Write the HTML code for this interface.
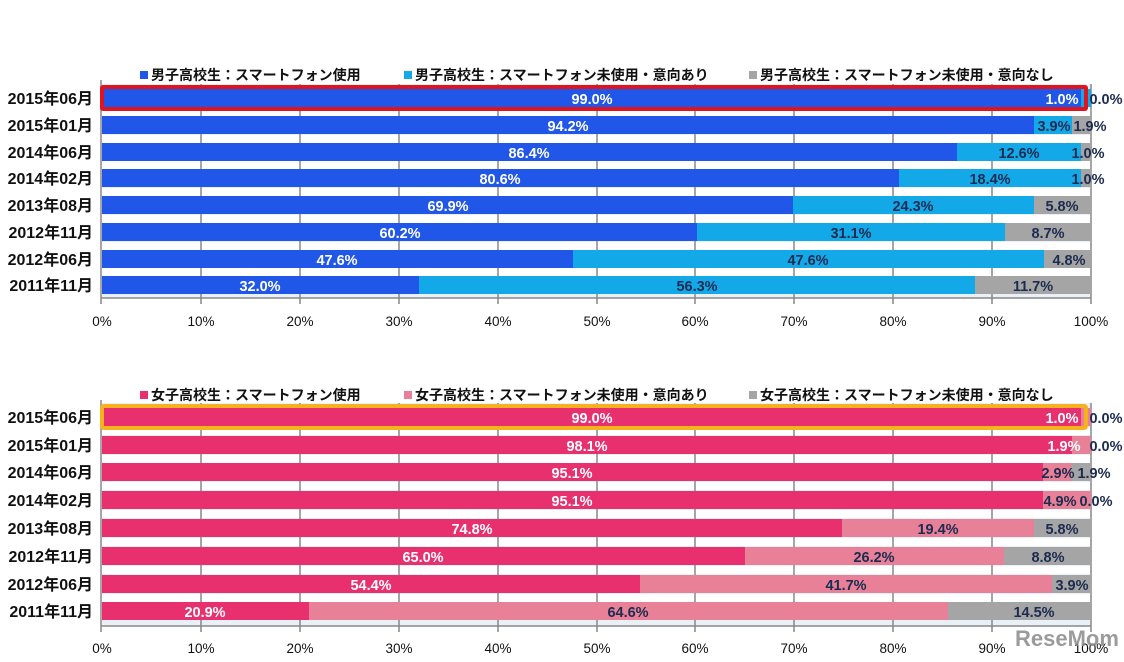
<!DOCTYPE html>
<html><head><meta charset="utf-8"><style>
body{margin:0;background:#fff;}
svg{display:block;font-family:"Liberation Sans","Noto Sans CJK JP",sans-serif;}
.y{font-size:16px;fill:#111;text-anchor:end;font-weight:bold;}
.t{font-size:13.5px;fill:#111;text-anchor:middle;}
.lg{font-size:14px;font-weight:bold;fill:#111;}
.w{font-size:14.5px;font-weight:bold;fill:#fff;text-anchor:middle;}
.d{font-size:14.5px;font-weight:bold;fill:#1c2b50;text-anchor:middle;}
.g{stroke:#888;stroke-width:1.5;}
</style></head><body>
<svg width="1124" height="662" viewBox="0 0 1124 662">
<rect width="1124" height="662" fill="#fff"/>
<!-- top chart -->
<rect x="102" y="84" width="989" height="214" fill="#e9f0f6"/>
<g fill="#fff"><rect x="102" y="108" width="989" height="8"/><rect x="102" y="135" width="989" height="8"/><rect x="102" y="161" width="989" height="8"/><rect x="102" y="188" width="989" height="8"/><rect x="102" y="215" width="989" height="8"/><rect x="102" y="242" width="989" height="8"/><rect x="102" y="268" width="989" height="8"/></g>
<g class="g"><line x1="201" y1="84" x2="201" y2="304"/><line x1="300" y1="84" x2="300" y2="304"/><line x1="399" y1="84" x2="399" y2="304"/><line x1="498" y1="84" x2="498" y2="304"/><line x1="597" y1="84" x2="597" y2="304"/><line x1="695" y1="84" x2="695" y2="304"/><line x1="794" y1="84" x2="794" y2="304"/><line x1="893" y1="84" x2="893" y2="304"/><line x1="992" y1="84" x2="992" y2="304"/><line x1="1091" y1="84" x2="1091" y2="304"/><line x1="101" y1="80" x2="101" y2="304"/><line x1="101" y1="298" x2="1091" y2="298"/></g>
<g>
<rect x="102" y="89" width="979" height="18" fill="#2157e8"/><rect x="1081" y="89" width="10" height="18" fill="#13a9e8"/>
<rect x="102" y="116" width="932" height="18" fill="#2157e8"/><rect x="1034" y="116" width="38" height="18" fill="#13a9e8"/><rect x="1072" y="116" width="19" height="18" fill="#a5a5a5"/>
<rect x="102" y="143" width="855" height="18" fill="#2157e8"/><rect x="957" y="143" width="124" height="18" fill="#13a9e8"/><rect x="1081" y="143" width="10" height="18" fill="#a5a5a5"/>
<rect x="102" y="169" width="797" height="18" fill="#2157e8"/><rect x="899" y="169" width="182" height="18" fill="#13a9e8"/><rect x="1081" y="169" width="10" height="18" fill="#a5a5a5"/>
<rect x="102" y="196" width="691" height="18" fill="#2157e8"/><rect x="793" y="196" width="241" height="18" fill="#13a9e8"/><rect x="1034" y="196" width="57" height="18" fill="#a5a5a5"/>
<rect x="102" y="223" width="595" height="18" fill="#2157e8"/><rect x="697" y="223" width="308" height="18" fill="#13a9e8"/><rect x="1005" y="223" width="86" height="18" fill="#a5a5a5"/>
<rect x="102" y="250" width="471" height="18" fill="#2157e8"/><rect x="573" y="250" width="471" height="18" fill="#13a9e8"/><rect x="1044" y="250" width="47" height="18" fill="#a5a5a5"/>
<rect x="102" y="276" width="317" height="18" fill="#2157e8"/><rect x="419" y="276" width="556" height="18" fill="#13a9e8"/><rect x="975" y="276" width="116" height="18" fill="#a5a5a5"/>
</g>
<rect x="102" y="87" width="984" height="22" fill="none" stroke="#e0141e" stroke-width="4" rx="1"/>
<g>
<text class="w" x="592" y="104">99.0%</text><text class="w" x="1062" y="104">1.0%</text><text class="d" x="1106" y="104">0.0%</text>
<text class="w" x="568" y="131">94.2%</text><text class="d" x="1054" y="131">3.9%</text><text class="d" x="1090" y="131">1.9%</text>
<text class="w" x="529" y="158">86.4%</text><text class="d" x="1019" y="158">12.6%</text><text class="d" x="1088" y="158">1.0%</text>
<text class="w" x="500" y="184">80.6%</text><text class="d" x="990" y="184">18.4%</text><text class="d" x="1088" y="184">1.0%</text>
<text class="w" x="448" y="211">69.9%</text><text class="d" x="913" y="211">24.3%</text><text class="d" x="1062" y="211">5.8%</text>
<text class="w" x="400" y="238">60.2%</text><text class="d" x="851" y="238">31.1%</text><text class="d" x="1048" y="238">8.7%</text>
<text class="w" x="337" y="265">47.6%</text><text class="d" x="808" y="265">47.6%</text><text class="d" x="1069" y="265">4.8%</text>
<text class="w" x="260" y="291">32.0%</text><text class="d" x="697" y="291">56.3%</text><text class="d" x="1033" y="291">11.7%</text>
</g>
<g>
<text class="y" x="93" y="104">2015年06月</text><text class="y" x="93" y="131">2015年01月</text><text class="y" x="93" y="158">2014年06月</text><text class="y" x="93" y="184">2014年02月</text><text class="y" x="93" y="211">2013年08月</text><text class="y" x="93" y="238">2012年11月</text><text class="y" x="93" y="265">2012年06月</text><text class="y" x="93" y="291">2011年11月</text>
</g>
<g>
<text class="t" x="102" y="326">0%</text><text class="t" x="201" y="326">10%</text><text class="t" x="300" y="326">20%</text><text class="t" x="399" y="326">30%</text><text class="t" x="498" y="326">40%</text><text class="t" x="597" y="326">50%</text><text class="t" x="695" y="326">60%</text><text class="t" x="794" y="326">70%</text><text class="t" x="893" y="326">80%</text><text class="t" x="992" y="326">90%</text><text class="t" x="1091" y="326">100%</text>
</g>
<rect x="140" y="71" width="8" height="8" fill="#2157e8"/><text class="lg" x="151" y="80">男子高校生：スマートフォン使用</text>
<rect x="404" y="71" width="8" height="8" fill="#13a9e8"/><text class="lg" x="415" y="80">男子高校生：スマートフォン未使用・意向あり</text>
<rect x="749" y="71" width="8" height="8" fill="#a5a5a5"/><text class="lg" x="760" y="80">男子高校生：スマートフォン未使用・意向なし</text>

<!-- bottom chart -->
<rect x="102" y="403" width="989" height="223" fill="#e9f0f6"/>
<g fill="#fff"><rect x="102" y="427" width="989" height="8"/><rect x="102" y="455" width="989" height="8"/><rect x="102" y="482" width="989" height="8"/><rect x="102" y="510" width="989" height="8"/><rect x="102" y="538" width="989" height="8"/><rect x="102" y="566" width="989" height="8"/><rect x="102" y="594" width="989" height="8"/></g>
<g class="g"><line x1="201" y1="403" x2="201" y2="632"/><line x1="300" y1="403" x2="300" y2="632"/><line x1="399" y1="403" x2="399" y2="632"/><line x1="498" y1="403" x2="498" y2="632"/><line x1="597" y1="403" x2="597" y2="632"/><line x1="695" y1="403" x2="695" y2="632"/><line x1="794" y1="403" x2="794" y2="632"/><line x1="893" y1="403" x2="893" y2="632"/><line x1="992" y1="403" x2="992" y2="632"/><line x1="1091" y1="403" x2="1091" y2="632"/><line x1="101" y1="400" x2="101" y2="632"/><line x1="101" y1="626" x2="1091" y2="626"/></g>
<g>
<rect x="102" y="408" width="979" height="18" fill="#e8306e"/><rect x="1081" y="408" width="10" height="18" fill="#e88098"/>
<rect x="102" y="436" width="970" height="18" fill="#e8306e"/><rect x="1072" y="436" width="19" height="18" fill="#e88098"/>
<rect x="102" y="463" width="941" height="18" fill="#e8306e"/><rect x="1043" y="463" width="28" height="18" fill="#e88098"/><rect x="1071" y="463" width="20" height="18" fill="#a5a5a5"/>
<rect x="102" y="491" width="941" height="18" fill="#e8306e"/><rect x="1043" y="491" width="48" height="18" fill="#e88098"/>
<rect x="102" y="519" width="740" height="18" fill="#e8306e"/><rect x="842" y="519" width="192" height="18" fill="#e88098"/><rect x="1034" y="519" width="57" height="18" fill="#a5a5a5"/>
<rect x="102" y="547" width="643" height="18" fill="#e8306e"/><rect x="745" y="547" width="259" height="18" fill="#e88098"/><rect x="1004" y="547" width="87" height="18" fill="#a5a5a5"/>
<rect x="102" y="575" width="538" height="18" fill="#e8306e"/><rect x="640" y="575" width="412" height="18" fill="#e88098"/><rect x="1052" y="575" width="39" height="18" fill="#a5a5a5"/>
<rect x="102" y="602" width="207" height="18" fill="#e8306e"/><rect x="309" y="602" width="639" height="18" fill="#e88098"/><rect x="948" y="602" width="143" height="18" fill="#a5a5a5"/>
</g>
<rect x="102" y="406" width="984" height="22" fill="none" stroke="#f5b21c" stroke-width="4" rx="2"/>
<g>
<text class="w" x="592" y="423">99.0%</text><text class="w" x="1062" y="423">1.0%</text><text class="d" x="1106" y="423">0.0%</text>
<text class="w" x="587" y="451">98.1%</text><text class="w" x="1064" y="451">1.9%</text><text class="d" x="1106" y="451">0.0%</text>
<text class="w" x="572" y="478">95.1%</text><text class="d" x="1058" y="478">2.9%</text><text class="d" x="1094" y="478">1.9%</text>
<text class="w" x="572" y="506">95.1%</text><text class="d" x="1060" y="506">4.9%</text><text class="d" x="1096" y="506">0.0%</text>
<text class="w" x="472" y="534">74.8%</text><text class="d" x="938" y="534">19.4%</text><text class="d" x="1062" y="534">5.8%</text>
<text class="w" x="423" y="562">65.0%</text><text class="d" x="874" y="562">26.2%</text><text class="d" x="1048" y="562">8.8%</text>
<text class="w" x="371" y="590">54.4%</text><text class="d" x="846" y="590">41.7%</text><text class="d" x="1072" y="590">3.9%</text>
<text class="w" x="205" y="617">20.9%</text><text class="d" x="628" y="617">64.6%</text><text class="d" x="1034" y="617">14.5%</text>
</g>
<g>
<text class="y" x="93" y="423">2015年06月</text><text class="y" x="93" y="451">2015年01月</text><text class="y" x="93" y="478">2014年06月</text><text class="y" x="93" y="506">2014年02月</text><text class="y" x="93" y="534">2013年08月</text><text class="y" x="93" y="562">2012年11月</text><text class="y" x="93" y="590">2012年06月</text><text class="y" x="93" y="617">2011年11月</text>
</g>
<g>
<text class="t" x="102" y="653">0%</text><text class="t" x="201" y="653">10%</text><text class="t" x="300" y="653">20%</text><text class="t" x="399" y="653">30%</text><text class="t" x="498" y="653">40%</text><text class="t" x="597" y="653">50%</text><text class="t" x="695" y="653">60%</text><text class="t" x="794" y="653">70%</text><text class="t" x="893" y="653">80%</text><text class="t" x="992" y="653">90%</text><text class="t" x="1091" y="653">100%</text>
</g>
<rect x="140" y="391" width="8" height="8" fill="#e8306e"/><text class="lg" x="151" y="400">女子高校生：スマートフォン使用</text>
<rect x="404" y="391" width="8" height="8" fill="#e88098"/><text class="lg" x="415" y="400">女子高校生：スマートフォン未使用・意向あり</text>
<rect x="749" y="391" width="8" height="8" fill="#a5a5a5"/><text class="lg" x="760" y="400">女子高校生：スマートフォン未使用・意向なし</text>
<text x="1015" y="646" font-size="22" font-weight="bold" fill="#8a8a8a" opacity="0.85">ReseMom</text>
</svg>
</body></html>
